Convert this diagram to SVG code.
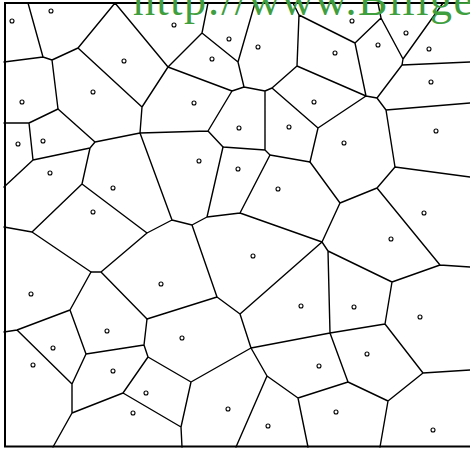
<svg xmlns="http://www.w3.org/2000/svg" width="470" height="449" viewBox="0 0 470 449">
<style>
.e{stroke:#000;stroke-width:1.4;fill:none;stroke-linecap:round;stroke-linejoin:round}
.f{stroke:#000;stroke-width:2;fill:none}
.s{stroke:#000;stroke-width:1.1;fill:#fff}
.w{font-family:"Liberation Serif",serif;font-size:44px;fill:#3f9f3f}
</style>
<rect x="0" y="0" width="470" height="449" fill="#fff"/>
<g id="frame">
<path class="f" d="M470,3 H5 V446.5 H470"/>
</g>
<g id="edges">
<path class="e" d="M28,3 L43,57 M4,62 L43,57 L52,60 L78,48 L115,3 M52,60 L58,109 M78,48 L142,107 M115,3 L168,67 L142,107 M168,67 L202,33 L208,3 M202,33 L238,62 L255,3 M238,62 L244,87 M168,67 L232,91 L244,87 L265,91 L272,88 M232,91 L208,131 M265,91 L265,150 M272,88 L297,66 L299,15 L293,3 M272,88 L318,128 M299,15 L355,43 L381,18 L378,3 M381,18 L403,59 L443,3 M403,59 L402,65 L470,62 M402,65 L377,98 M355,43 L366,96 M297,66 L366,96 L377,98 L386,110 L470,103 M386,110 L395,167 M366,96 L318,128 L310,162 L270,155 L265,150 L223,147 L208,131 L140,133 L142,107"/>
<path class="e" d="M58,109 L29,123 L4,123 M58,109 L95,142 M29,123 L33,160 L4,187 M33,160 L90,148 L95,142 L140,133 M90,148 L82,184 L32,232 M82,184 L147,233 M140,133 L172,220 L147,233 M172,220 L192,225 L207,217 L223,147 M207,217 L240,213 L270,155 M240,213 L322,242 M310,162 L340,203 L377,188 L395,167 L470,177 M377,188 L440,265 L470,267 M340,203 L322,242 L328,251 L392,282 L440,265 M392,282 L385,324 L423,373 L470,370 M423,373 L388,401 L380,447 M388,401 L348,382 L330,333 L385,324 M330,333 L328,251 M330,333 L251,348 M348,382 L298,398 L308,447 M298,398 L267,376 L251,348 M267,376 L236,447 M251,348 L240,314 L322,242 M240,314 L217,297 L192,225 M217,297 L147,319 L101,272 L91,272 L32,232 L4,227 M101,272 L147,233"/>
<path class="e" d="M91,272 L70,310 L17,330 L4,332 M17,330 L72,384 M70,310 L86,354 L144,345 L147,319 M86,354 L72,384 L72,413 L53,447 M144,345 L148,357 L191,382 L251,348 M148,357 L123,393 L72,413 M123,393 L181,427 L191,382 M181,427 L182,447"/>
</g>
<g id="sites">
<circle class="s" cx="12" cy="21" r="2"/><circle class="s" cx="51" cy="11" r="2"/><circle class="s" cx="124" cy="61" r="2"/><circle class="s" cx="93" cy="92" r="2"/><circle class="s" cx="22" cy="102" r="2"/><circle class="s" cx="18" cy="144" r="2"/><circle class="s" cx="43" cy="141" r="2"/><circle class="s" cx="50" cy="173" r="2"/><circle class="s" cx="113" cy="188" r="2"/><circle class="s" cx="93" cy="212" r="2"/><circle class="s" cx="31" cy="294" r="2"/><circle class="s" cx="107" cy="331" r="2"/><circle class="s" cx="53" cy="348" r="2"/><circle class="s" cx="33" cy="365" r="2"/><circle class="s" cx="113" cy="371" r="2"/><circle class="s" cx="146" cy="393" r="2"/><circle class="s" cx="133" cy="413" r="2"/><circle class="s" cx="161" cy="284" r="2"/><circle class="s" cx="182" cy="338" r="2"/><circle class="s" cx="228" cy="409" r="2"/><circle class="s" cx="268" cy="426" r="2"/><circle class="s" cx="319" cy="366" r="2"/><circle class="s" cx="336" cy="412" r="2"/><circle class="s" cx="367" cy="354" r="2"/><circle class="s" cx="433" cy="430" r="2"/><circle class="s" cx="301" cy="306" r="2"/><circle class="s" cx="253" cy="256" r="2"/><circle class="s" cx="354" cy="307" r="2"/><circle class="s" cx="420" cy="317" r="2"/><circle class="s" cx="391" cy="239" r="2"/><circle class="s" cx="424" cy="213" r="2"/><circle class="s" cx="436" cy="131" r="2"/><circle class="s" cx="344" cy="143" r="2"/><circle class="s" cx="278" cy="189" r="2"/><circle class="s" cx="238" cy="169" r="2"/><circle class="s" cx="199" cy="161" r="2"/><circle class="s" cx="239" cy="128" r="2"/><circle class="s" cx="289" cy="127" r="2"/><circle class="s" cx="194" cy="103" r="2"/><circle class="s" cx="212" cy="59" r="2"/><circle class="s" cx="174" cy="25" r="2"/><circle class="s" cx="229" cy="39" r="2"/><circle class="s" cx="258" cy="47" r="2"/><circle class="s" cx="314" cy="102" r="2"/><circle class="s" cx="335" cy="53" r="2"/><circle class="s" cx="352" cy="21" r="2"/><circle class="s" cx="378" cy="45" r="2"/><circle class="s" cx="406" cy="33" r="2"/><circle class="s" cx="429" cy="49" r="2"/><circle class="s" cx="431" cy="82" r="2"/>
</g>
<text class="w" x="133" y="15" textLength="340" lengthAdjust="spacing">http://www.Bilige</text>
</svg>
